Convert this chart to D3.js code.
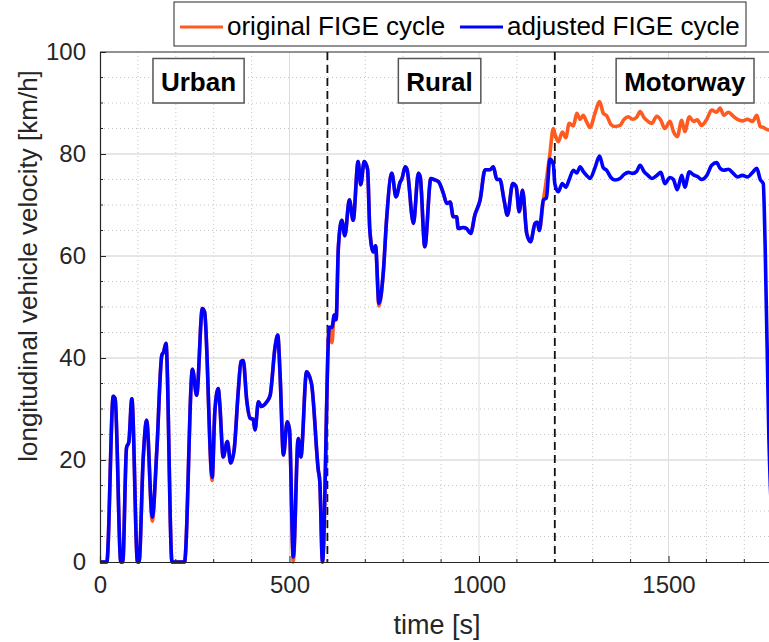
<!DOCTYPE html>
<html>
<head>
<meta charset="utf-8">
<script src="https://cdn.jsdelivr.net/npm/d3@7"></script>
<style>
  body { margin: 0; background: #fff; }
  svg { display: block; font-family: "Liberation Sans", Arial, sans-serif; }
</style>
</head>
<body>
<div id="chart"></div>
<script>
// time axis [s] shared by both cycles
const time = [0, 18, 35, 40, 55, 60, 70, 76, 84, 99, 103, 114, 123, 138, 150, 163, 168, 174, 190, 223,
  244, 255, 270, 276, 296, 303, 312, 316, 325, 336, 345, 354, 365, 372, 378, 387, 396, 404, 409, 418,
  426, 440, 449, 462, 469, 475, 484, 494, 500, 510, 523, 530, 545, 558, 576, 580, 587, 605, 612, 618,
  623, 629, 638, 646, 658, 668, 681, 688, 697, 706, 712, 721, 727, 736, 748, 756, 770, 781, 792, 797,
  805, 810, 827, 840, 845, 857, 873, 881, 893, 906, 915, 924, 932, 941, 945, 958, 967, 978, 989, 1003,
  1016, 1029, 1038, 1047, 1055, 1066, 1075, 1089, 1098, 1106, 1115, 1126, 1136, 1148, 1154, 1159, 1170,
  1178, 1187, 1196, 1200, 1209, 1220, 1229, 1238, 1249, 1258, 1267, 1275, 1284, 1293, 1306, 1318, 1328,
  1337, 1348, 1359, 1372, 1383, 1394, 1405, 1416, 1425, 1435, 1446, 1456, 1469, 1480, 1490, 1504, 1513,
  1523, 1535, 1543, 1555, 1566, 1576, 1587, 1601, 1614, 1627, 1636, 1646, 1658, 1671, 1682, 1695, 1708,
  1722, 1733, 1742, 1750, 1755, 1765, 1780];

const original = [0, 0, 32.5, 32, 0, 0, 22.4, 23.5, 32, 0, 0, 20.3, 27.8, 8, 22, 40.5, 41.2, 42.9, 0, 0,
  37.8, 32.7, 49.7, 49, 16, 29.5, 34, 31, 20.6, 23.6, 19.4, 22, 33.7, 39.3, 39.5, 31.8, 28.2, 28, 25.9, 31.4,
  30.5, 31.4, 32.7, 42.2, 44.5, 37, 21, 27.5, 26, 0, 24.2, 20.6, 37.3, 35, 18, 15.7, 0, 46, 43, 48.4,
  47.5, 61.8, 67, 64, 71, 67, 78.5, 74, 78.5, 77, 65, 60.8, 62, 50.2, 57.3, 67, 76.2, 71.6, 74.5, 75.2,
  77.5, 77, 66.4, 76.2, 75.5, 61.8, 75.2, 75, 74.6, 72.3, 70.3, 70.6, 67.7, 67.7, 65.4, 65.6, 65.4, 64.4, 68, 71,
  76.9, 76.9, 77.5, 75, 75, 71, 68, 74.2, 73.6, 68.7, 72.9, 64.4, 62.8, 66.4, 66.6, 65, 71,
  75, 80, 85, 84, 82.4, 84.3, 83.2, 86, 85.5, 88, 86.8, 87.6, 86.3, 85.2, 88, 90.3, 88,
  87.5, 85.8, 85.4, 85.6, 86.8, 87.3, 86.8, 87.2, 88.3, 87.2, 86.4, 86, 87.4, 86.6, 85, 86.4, 84.4,
  83.4, 86.6, 84.4, 87.3, 86.4, 86.7, 85.6, 86.8, 88.6, 88.2, 89, 87.6, 88.2, 87.4, 86.8, 86.5, 86.8,
  86.4, 87.6, 85.4, 85.2, 85, 84.7, 84.8];

const adjusted = [0, 0, 32.5, 32, 0, 0, 22.4, 23.5, 32, 0, 0, 20.3, 27.8, 8.8, 22, 40.5, 41.2, 42.9, 0, 0,
  37.8, 32.7, 49.7, 49, 16.6, 29.5, 34, 31, 20.6, 23.6, 19.4, 22, 33.7, 39.3, 39.5, 31.8, 28.2, 28, 25.9, 31.4,
  30.5, 31.4, 32.7, 42.2, 44.5, 37, 21, 27.5, 26, 1, 24.2, 20.6, 37.3, 35, 18, 15.7, 0, 46, 46, 48.4,
  47.5, 61.8, 67, 64, 71, 67, 78.5, 74, 78.5, 77, 65, 60.8, 62, 50.7, 57.3, 67, 76.2, 71.6, 74.5, 75.2,
  77.5, 77, 66.4, 76.2, 75.5, 61.8, 75.2, 75, 74.6, 72.3, 70.3, 70.6, 67.7, 67.7, 65.4, 65.6, 65.4, 64.4, 68, 71,
  76.9, 76.9, 77.5, 75, 75, 71, 68, 74.2, 73.6, 68.7, 72.9, 64.4, 62.8, 66.4, 66.6, 65, 71,
  71.4, 79, 78, 74.2, 72.6, 74.2, 73.5, 75, 76.8, 76.3, 77.5, 76.6, 75.8, 75.2, 77.3, 79.6, 77.3,
  76.8, 75.4, 74.9, 75.2, 76, 76.4, 76.2, 76.6, 77.8, 76.6, 75.8, 75.2, 75.8, 76.4, 74.2, 75.4, 75,
  73, 75.8, 73.5, 76.5, 75.9, 75.6, 75, 75.8, 77.8, 78.3, 77.2, 76.8, 77, 76.2, 75.5, 75.8, 75.5,
  76.4, 77.2, 75, 74.2, 62, 24, 0];

const seriesNames = ['original FIGE cycle', 'adjusted FIGE cycle'];
const phases = ['Urban', 'Rural', 'Motorway'];
const phaseBounds = [600, 1200];
const xTicks = [0, 500, 1000, 1500];
const yTicks = [0, 20, 40, 60, 80, 100];

const W = 769, H = 642;
const box = {left: 100, top: 52, bottom: 562};
const ink = '#262626';
const colors = ['#ff5a1f', '#0000ff'];

const svg = d3.select('#chart').append('svg')
    .attr('width', W)
    .attr('height', H);

const x = d3.scaleLinear().domain([0, 1800]).range([box.left, box.left + 1800 * 0.379]);
const y = d3.scaleLinear().domain([0, 100]).range([box.bottom, box.top]);
const right = x(1800);

svg.append('clipPath').attr('id', 'clip')
  .append('rect')
    .attr('x', box.left).attr('y', box.top - 2)
    .attr('width', right - box.left).attr('height', box.bottom - box.top + 4);

// minor grid (dotted)
const grid = svg.append('g');
grid.selectAll('.mx').data(d3.range(100, 1800, 100).filter(d => d % 500 !== 0))
  .enter().append('line')
    .attr('x1', d => x(d)).attr('x2', d => x(d))
    .attr('y1', box.top).attr('y2', box.bottom)
    .attr('stroke', '#c4c4c4').attr('stroke-width', 1).attr('stroke-dasharray', '1,3');
grid.selectAll('.my').data(d3.range(5, 100, 5).filter(d => d % 20 !== 0))
  .enter().append('line')
    .attr('x1', box.left).attr('x2', right)
    .attr('y1', d => y(d)).attr('y2', d => y(d))
    .attr('stroke', '#c4c4c4').attr('stroke-width', 1).attr('stroke-dasharray', '1,3');

// major grid
grid.selectAll('.gx').data(xTicks.slice(1))
  .enter().append('line')
    .attr('x1', d => x(d)).attr('x2', d => x(d))
    .attr('y1', box.top).attr('y2', box.bottom)
    .attr('stroke', '#dedede').attr('stroke-width', 1);
grid.selectAll('.gy').data(yTicks.slice(1, -1))
  .enter().append('line')
    .attr('x1', box.left).attr('x2', right)
    .attr('y1', d => y(d)).attr('y2', d => y(d))
    .attr('stroke', '#dedede').attr('stroke-width', 1.5);

// phase boundaries
svg.selectAll('.phase').data(phaseBounds)
  .enter().append('line')
    .attr('x1', d => x(d)).attr('x2', d => x(d))
    .attr('y1', box.top).attr('y2', box.bottom)
    .attr('stroke', '#111').attr('stroke-width', 1.8).attr('stroke-dasharray', '8,5');

// series
const line = d3.line()
    .x((d, i) => x(time[i]))
    .y(d => y(d))
    .curve(d3.curveMonotoneX);

svg.append('g').attr('clip-path', 'url(#clip)')
  .selectAll('path').data([original, adjusted])
  .enter().append('path')
    .attr('d', line)
    .attr('fill', 'none')
    .attr('stroke', (d, i) => colors[i])
    .attr('stroke-width', 3.6)
    .attr('stroke-linejoin', 'round');

// axes
const xAxis = svg.append('g')
    .attr('transform', `translate(0,${box.bottom})`)
    .call(d3.axisBottom(x).tickValues(xTicks).tickFormat(d3.format('d')).tickSize(-6).tickPadding(12));
const yAxis = svg.append('g')
    .attr('transform', `translate(${box.left},0)`)
    .call(d3.axisLeft(y).tickValues(yTicks).tickSize(-6).tickPadding(14));

[xAxis, yAxis].forEach(a => {
  a.select('.domain').attr('stroke', ink).attr('stroke-width', 1.2);
  a.selectAll('.tick line').attr('stroke', ink);
  a.selectAll('.tick text').attr('fill', ink).attr('font-size', 24)
    .attr('font-family', '"Liberation Sans", Arial, sans-serif');
});
xAxis.selectAll('.tick text').attr('dy', '0.8em');

svg.append('line')
    .attr('x1', box.left).attr('x2', right)
    .attr('y1', box.top).attr('y2', box.top)
    .attr('stroke', ink).attr('stroke-width', 1.2);

// minor ticks
svg.selectAll('.tx').data(d3.range(100, 1800, 100).filter(d => d % 500 !== 0))
  .enter().append('line')
    .attr('x1', d => x(d)).attr('x2', d => x(d))
    .attr('y1', box.bottom).attr('y2', box.bottom - 3)
    .attr('stroke', ink);
svg.selectAll('.ty').data(d3.range(5, 100, 5).filter(d => d % 20 !== 0))
  .enter().append('line')
    .attr('x1', box.left).attr('x2', box.left + 3)
    .attr('y1', d => y(d)).attr('y2', d => y(d))
    .attr('stroke', ink);

// axis titles
svg.append('text')
    .attr('x', 437).attr('y', 634)
    .attr('text-anchor', 'middle')
    .attr('font-size', 27).attr('fill', ink)
    .text('time [s]');
svg.append('text')
    .attr('transform', 'translate(37,266) rotate(-90)')
    .attr('text-anchor', 'middle')
    .attr('font-size', 26).attr('fill', ink)
    .text('longitudinal vehicle velocity [km/h]');

// phase labels
const labelAt = [260, 896, 1543];
const tags = svg.selectAll('.tag').data(phases)
  .enter().append('g');
tags.append('text')
    .attr('x', (d, i) => x(labelAt[i])).attr('y', 91)
    .attr('text-anchor', 'middle')
    .attr('font-size', 26).attr('font-weight', 'bold').attr('fill', '#000')
    .text(d => d);
tags.each(function() {
  const g = d3.select(this);
  const b = g.select('text').node().getBBox();
  g.insert('rect', 'text')
    .attr('x', b.x - 8).attr('y', 58.5)
    .attr('width', b.width + 16).attr('height', 44.5)
    .attr('fill', '#fff').attr('stroke', '#555').attr('stroke-width', 1.5);
});

// legend
const legend = svg.append('g');
legend.append('rect')
    .attr('x', 174).attr('y', 2).attr('width', 572).attr('height', 44)
    .attr('fill', '#fff').attr('stroke', ink).attr('stroke-width', 1);
const legendX = [180, 460];
seriesNames.forEach((name, i) => {
  legend.append('line')
      .attr('x1', legendX[i]).attr('x2', legendX[i] + 43)
      .attr('y1', 27).attr('y2', 27)
      .attr('stroke', colors[i]).attr('stroke-width', 3);
  legend.append('text')
      .attr('x', legendX[i] + 47).attr('y', 35)
      .attr('font-size', 26).attr('fill', '#000')
      .text(name);
});
</script>
</body>
</html>
